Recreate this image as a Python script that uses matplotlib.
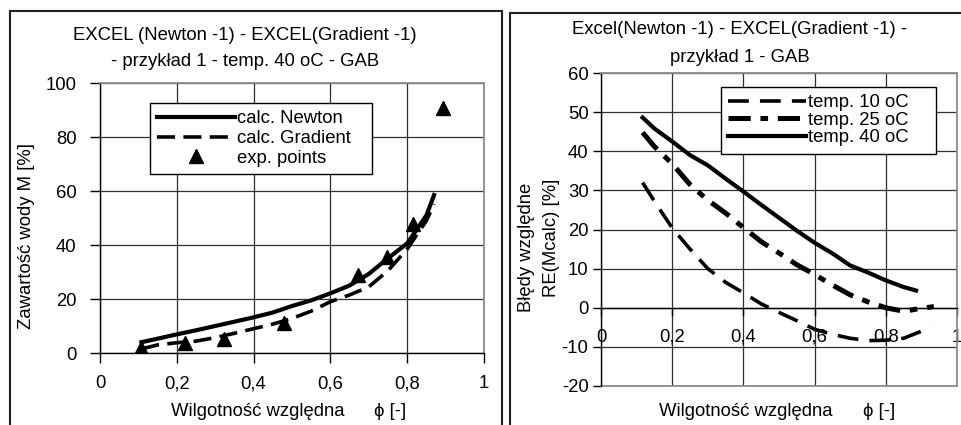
import numpy as np
import matplotlib
matplotlib.use("Agg")
import matplotlib.pyplot as plt
from matplotlib.patches import Rectangle

plt.rcParams['font.family'] = ['Liberation Sans', 'DejaVu Sans']
plt.rcParams['lines.scale_dashes'] = False
plt.rcParams['axes.unicode_minus'] = False

# left chart - water content vs relative humidity, 40 oC
phi_calc = [0.108, 0.15, 0.2, 0.25, 0.3, 0.35, 0.4, 0.45, 0.5, 0.55, 0.6, 0.65, 0.7, 0.75, 0.8, 0.85, 0.87]
m_newton = [4.0, 5.3, 6.9, 8.4, 10.0, 11.6, 13.2, 15.0, 17.4, 19.5, 22.1, 25.0, 29.3, 35.1, 40.6, 51.0, 58.5]
m_gradient = [1.5, 3.0, 3.8, 4.4, 5.7, 7.3, 9.0, 10.7, 12.8, 15.5, 19.0, 21.5, 24.5, 30.5, 38.5, 49.0, 55.2]
phi_exp = [0.108, 0.221, 0.324, 0.48, 0.673, 0.748, 0.814, 0.892]
m_exp = [1.8, 3.8, 5.2, 11.0, 28.9, 35.7, 47.7, 90.6]

# right chart - relative errors
phi_10 = [0.117, 0.15, 0.2, 0.25, 0.3, 0.35, 0.4, 0.45, 0.5, 0.55, 0.6, 0.65, 0.7, 0.75, 0.8, 0.85, 0.9, 0.925]
re_10 = [32.0, 27.2, 20.4, 15.0, 10.0, 6.5, 3.8, 1.0, -1.2, -3.3, -5.5, -6.8, -7.8, -8.4, -8.3, -7.8, -6.0, -4.6]
phi_25 = [0.117, 0.15, 0.2, 0.25, 0.3, 0.35, 0.4, 0.45, 0.5, 0.55, 0.6, 0.65, 0.7, 0.75, 0.8, 0.85, 0.89, 0.935]
re_25 = [44.8, 41.2, 36.8, 31.5, 27.5, 24.2, 20.5, 16.9, 14.0, 11.0, 8.5, 5.8, 3.3, 1.5, 0.0, -0.9, -0.3, 0.3]
phi_40 = [0.117, 0.15, 0.2, 0.25, 0.3, 0.35, 0.4, 0.45, 0.5, 0.55, 0.6, 0.65, 0.7, 0.75, 0.8, 0.85, 0.885]
re_40 = [48.6, 45.8, 42.5, 39.0, 36.4, 33.0, 29.7, 26.3, 23.0, 19.7, 16.6, 13.9, 10.8, 9.0, 7.0, 5.3, 4.4]

x_ticks = [0, 0.2, 0.4, 0.6, 0.8, 1]
x_ticklabels = ['0', '0,2', '0,4', '0,6', '0,8', '1']

W, H = 962, 425
fig = plt.figure(figsize=(W / 100, H / 100), dpi=100)

# panel borders
fig.patches.append(Rectangle((10 / W, -0.05), 492 / W, 1 - 11 / H + 0.05, transform=fig.transFigure,
                             fill=False, ec='#202020', lw=1.5))
fig.patches.append(Rectangle((510 / W, -0.05), 0.6, 1 - 13 / H + 0.05, transform=fig.transFigure,
                             fill=False, ec='#202020', lw=1.5))

FS = 13.3
GRAY = '#8c8c8c'


def style_axes(ax):
    ax.set_xticks(x_ticks)
    ax.set_xticklabels(x_ticklabels)
    ax.grid(True, color='#303030', lw=0.9)
    for s in ['top', 'right']:
        ax.spines[s].set_color(GRAY)
        ax.spines[s].set_linewidth(1.3)
    for s in ['left', 'bottom']:
        ax.spines[s].set_color('black')
        ax.spines[s].set_linewidth(1.0)
    ax.tick_params(direction='out', length=7, width=1, labelsize=13.3, colors='black')


# ---- left ----
ax1 = fig.add_axes([100 / W, 1 - 353 / H, 384 / W, 270 / H])
ax1.set_xlim(0, 1)
ax1.set_ylim(0, 100)
ax1.set_yticks(np.arange(0, 101, 20))
style_axes(ax1)
ax1.tick_params(axis='y', pad=10)
ax1.tick_params(axis='x', pad=9)

ax1.plot(phi_calc, m_newton, color='black', lw=3, label='calc. Newton', zorder=3)
ax1.plot(phi_calc, m_gradient, color='black', lw=2.6, ls=(0, (13, 6)), label='calc. Gradient', zorder=3)
ax1.plot(phi_exp, m_exp, ls='none', marker='^', ms=10.5, color='black', label='exp. points', zorder=4)

leg1 = ax1.legend(loc='upper left', bbox_to_anchor=(0.130, 0.641, 0.578, 0.285), mode='expand',
                  borderaxespad=0, fancybox=False, edgecolor='black', framealpha=1,
                  handlelength=4.2, handletextpad=0.1, labelspacing=0.15, fontsize=FS)
leg1.get_frame().set_linewidth(1.0)

fig.text(245 / W, 1 - 35 / H, 'EXCEL (Newton -1) - EXCEL(Gradient -1)', ha='center', va='center', fontsize=FS)
fig.text(245 / W, 1 - 62 / H, '- przykład 1 - temp. 40 oC - GAB', ha='center', va='center', fontsize=FS)
fig.text(27 / W, 1 - 236 / H, 'Zawartość wody M [%]', rotation=90, ha='center', va='center', fontsize=FS)
fig.text(258 / W, 1 - 412 / H, 'Wilgotność względna', ha='center', va='center', fontsize=FS)
fig.text(390 / W, 1 - 412 / H, 'ϕ [-]', ha='center', va='center', fontsize=FS)

# ---- right ----
ax2 = fig.add_axes([601 / W, 1 - 386 / H, 356 / W, 313 / H])
ax2.set_xlim(0, 1)
ax2.set_ylim(-20, 60)
ax2.set_yticks(np.arange(-20, 61, 10))
style_axes(ax2)
ax2.spines['bottom'].set_position(('data', 0))
ax2.plot([0, 1], [0, 0], transform=ax2.transAxes, color=GRAY, lw=1.3, clip_on=False)
ax2.tick_params(axis='y', pad=3, length=6)
ax2.tick_params(axis='x', pad=9, length=6)

ax2.plot(phi_10, re_10, color='black', lw=2.6, ls=(0, (15, 8)), label='temp. 10 oC', zorder=3)
ax2.plot(phi_25, re_25, color='black', lw=3.6, ls=(0, (16, 7, 5.5, 7)), label='temp. 25 oC', zorder=3)
ax2.plot(phi_40, re_40, color='black', lw=3, label='temp. 40 oC', zorder=3)

leg2 = ax2.legend(loc='upper left', bbox_to_anchor=(0.337, 0.732, 0.604, 0.223), mode='expand',
                  borderaxespad=0, fancybox=False, edgecolor='black', framealpha=1,
                  handlelength=4.2, handletextpad=0.1, labelspacing=0.02, fontsize=FS)
leg2.get_frame().set_linewidth(1.0)

fig.text(740 / W, 1 - 30 / H, 'Excel(Newton -1) - EXCEL(Gradient -1) -', ha='center', va='center', fontsize=FS)
fig.text(740 / W, 1 - 57 / H, 'przykład 1 - GAB', ha='center', va='center', fontsize=FS)
fig.text(527 / W, 1 - 247 / H, 'Błędy względne', rotation=90, ha='center', va='center', fontsize=FS)
fig.text(552 / W, 1 - 238 / H, 'RE(Mcalc) [%]', rotation=90, ha='center', va='center', fontsize=FS)
fig.text(746 / W, 1 - 412 / H, 'Wilgotność względna', ha='center', va='center', fontsize=FS)
fig.text(879 / W, 1 - 412 / H, 'ϕ [-]', ha='center', va='center', fontsize=FS)

fig.savefig('out.png', dpi=100)
